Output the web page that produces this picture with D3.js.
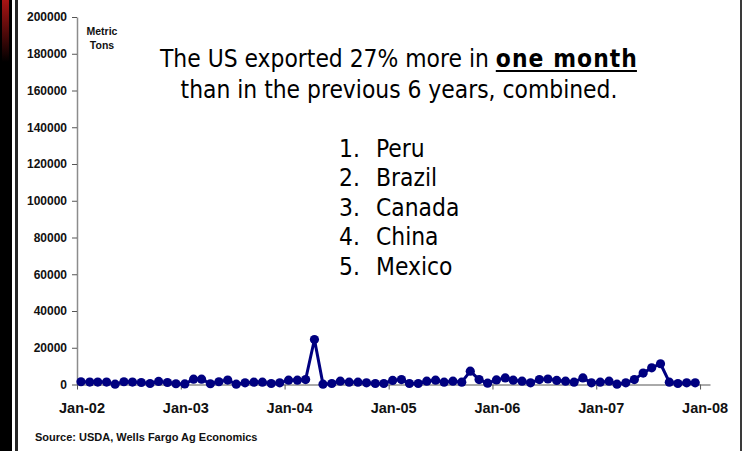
<!DOCTYPE html>
<html><head><meta charset="utf-8">
<script src="https://cdn.jsdelivr.net/npm/d3@7"></script>
<style>
body{margin:0;background:#fff;}
svg{display:block;}
</style>
</head><body>
<svg id="c" width="742" height="451"></svg>
<script>
// ---- data ----
const startMonth = new Date(2002, 0, 15);
const exportsTons = [
  1500, 1300, 1300, 1300, 200, 1500, 1300, 1100, 550, 1650, 1100, 400,
  300, 2900, 2900, 400, 1500, 2400, 200, 900, 1250, 1250, 550, 900,
  2350, 2350, 2700, 24500, 200, 550, 1800, 1250, 1250, 900, 550, 550,
  2200, 2700, 550, 550, 1800, 2350, 1250, 1800, 1250, 7250, 2700, 700,
  2500, 3600, 2350, 1800, 900, 2700, 3000, 2200, 1800, 1250, 3600, 900,
  1250, 1800, 200, 900, 2700, 6200, 9100, 11300, 1250, 550, 900, 900
];
const months = exportsTons.map((v, i) => d3.timeMonth.offset(startMonth, i));
const yTicks = [0, 20000, 40000, 60000, 80000, 100000, 120000, 140000, 160000, 180000, 200000];
const xTickLabels = ["Jan-02", "Jan-03", "Jan-04", "Jan-05", "Jan-06", "Jan-07", "Jan-08"];
const xTickDates = [new Date(2002,0,1), new Date(2003,0,1), new Date(2004,0,1), new Date(2005,0,1), new Date(2006,0,1), new Date(2007,0,1), new Date(2008,0,1)];
const headline1 = "The US exported 27% more in ";
const headline1Bold = "one month";
const headline2 = "than in the previous 6 years, combined.";
const countries = ["Peru", "Brazil", "Canada", "China", "Mexico"];
const unitLabel = ["Metric", "Tons"];
const sourceText = "Source: USDA, Wells Fargo Ag Economics";

// ---- drawing ----
const svg = d3.select("#c");
const defs = svg.append("defs");
const grad = defs.append("linearGradient").attr("id", "redg").attr("x1", 0).attr("y1", 0).attr("x2", 0).attr("y2", 1);
grad.append("stop").attr("offset", "0%").attr("stop-color", "#a81414");
grad.append("stop").attr("offset", "100%").attr("stop-color", "#000");

svg.append("rect").attr("x", 0).attr("y", 0).attr("width", 742).attr("height", 451).attr("fill", "#fff");
svg.append("rect").attr("x", 0).attr("y", 0).attr("width", 12).attr("height", 451).attr("fill", "#000");
svg.append("rect").attr("x", 2).attr("y", 0).attr("width", 7).attr("height", 62).attr("fill", "url(#redg)");
svg.append("rect").attr("x", 15).attr("y", 0).attr("width", 3).attr("height", 451).attr("fill", "#262626");
svg.append("rect").attr("x", 740).attr("y", 0).attr("width", 2).attr("height", 451).attr("fill", "#3a3a3a");

const x = d3.scaleTime().domain([new Date(2002, 0, 1), new Date(2008, 1, 5)]).range([77, 710]);
const y = d3.scaleLinear().domain([0, 200000]).range([384.5, 17]);

const axisFont = "'Liberation Sans', Arial, sans-serif";

const gy = svg.append("g").attr("transform", "translate(77,0)")
  .call(d3.axisLeft(y).tickValues(yTicks).tickFormat(d3.format("d")).tickSize(5).tickSizeOuter(0).tickPadding(5));
gy.select(".domain").attr("stroke", "#8c8c8c").attr("stroke-width", 1.5);
gy.selectAll(".tick line").attr("stroke", "#555");
gy.selectAll(".tick text").attr("font-family", axisFont).attr("font-weight", "bold").attr("font-size", "12px").attr("fill", "#111");

const gx = svg.append("g").attr("transform", "translate(0,384.5)")
  .call(d3.axisBottom(x).tickValues(xTickDates).tickFormat((d, i) => xTickLabels[i]).tickSize(5).tickSizeOuter(0));
gx.select(".domain").attr("stroke", "#555").attr("stroke-width", 1);
gx.selectAll(".tick line").attr("stroke", "#555");
gx.selectAll(".tick text").attr("font-family", axisFont).attr("font-weight", "bold").attr("font-size", "14.5px").attr("fill", "#111")
  .attr("x", 4.5).attr("y", 28.5).attr("dy", 0);

const line = d3.line().x((d, i) => x(months[i])).y(d => y(d));
svg.append("path").datum(exportsTons).attr("d", line).attr("fill", "none").attr("stroke", "#000080").attr("stroke-width", 3).attr("stroke-linejoin", "round");
svg.append("g").selectAll("circle").data(exportsTons).join("circle")
  .attr("cx", (d, i) => x(months[i])).attr("cy", d => y(d)).attr("r", 4.6).attr("fill", "#000080");

// unit label
svg.append("g").selectAll("text").data(unitLabel).join("text")
  .attr("x", 102).attr("y", (d, i) => 35 + i * 14).attr("text-anchor", "middle")
  .attr("font-family", axisFont).attr("font-weight", "bold").attr("font-size", "10.5px").attr("fill", "#111").text(d => d);

// source
svg.append("text").attr("x", 35).attr("y", 441).attr("font-family", axisFont).attr("font-weight", "bold")
  .attr("font-size", "11px").attr("fill", "#111").text(sourceText);

// headline: fit font size to reference width
const hFont = "'DejaVu Sans Condensed', 'DejaVu Sans', sans-serif";
const probe = svg.append("text").attr("font-family", hFont).attr("font-size", "20px").text(headline2);
const fs = 20 * 437 / probe.node().getComputedTextLength();
probe.remove();

const t1 = svg.append("text").attr("font-family", hFont).attr("font-size", fs + "px").attr("fill", "#000").attr("y", 67);
t1.append("tspan").text(headline1).style("white-space", "pre");
const bold = t1.append("tspan").attr("font-weight", "bold").text(headline1Bold);
let w1 = t1.node().getComputedTextLength();
const extra = Math.max(0, (478 - w1) / headline1Bold.length);
bold.attr("letter-spacing", extra.toFixed(2));
w1 = t1.node().getComputedTextLength();
const x1 = 399 - w1 / 2;
t1.attr("x", x1);
const wb = bold.node().getComputedTextLength();
svg.append("rect").attr("x", x1 + w1 - wb).attr("y", 70).attr("width", wb - extra).attr("height", 2).attr("fill", "#000");

svg.append("text").attr("font-family", hFont).attr("font-size", fs + "px").attr("fill", "#000")
  .attr("x", 399).attr("y", 98).attr("text-anchor", "middle").text(headline2);

const list = svg.append("g").attr("font-family", hFont).attr("font-size", fs + "px").attr("fill", "#000");
list.selectAll("text.n").data(countries).join("text").attr("class", "n")
  .attr("x", 339).attr("y", (d, i) => 156.5 + i * 29.5).text((d, i) => (i + 1) + ".");
list.selectAll("text.c").data(countries).join("text").attr("class", "c")
  .attr("x", 376).attr("y", (d, i) => 156.5 + i * 29.5).text(d => d);
</script>
</body></html>
